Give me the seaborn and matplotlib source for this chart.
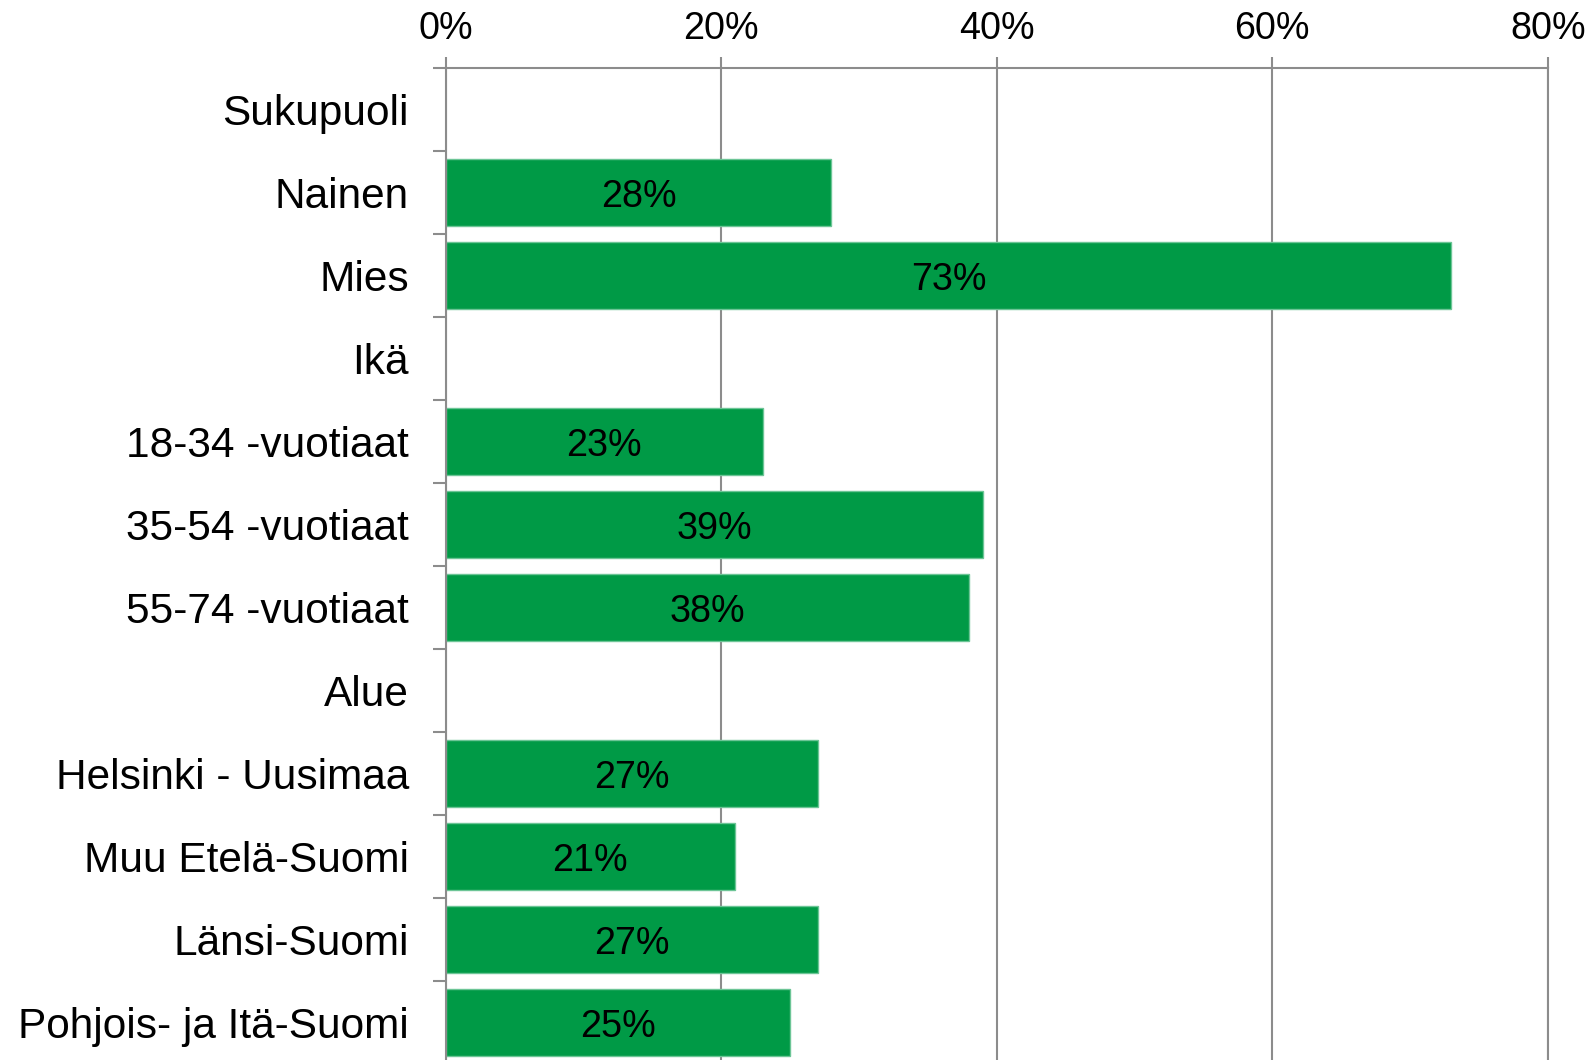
import matplotlib
matplotlib.use("Agg")
import matplotlib.pyplot as plt
import seaborn as sns
import numpy as np
import pandas as pd

categories = ["Sukupuoli", "Nainen", "Mies", "Ikä", "18-34 -vuotiaat",
              "35-54 -vuotiaat", "55-74 -vuotiaat", "Alue", "Helsinki - Uusimaa",
              "Muu Etelä-Suomi", "Länsi-Suomi", "Pohjois- ja Itä-Suomi"]
values = [np.nan, 28, 73, np.nan, 23, 39, 38, np.nan, 27, 21, 27, 25]
xticks = [0, 20, 40, 60, 80]
xtick_labels = ["0%", "20%", "40%", "60%", "80%"]

sns.set_theme(style="white")
plt.rcParams["font.family"] = ["Liberation Sans", "DejaVu Sans"]

GREEN = "#009A46"
GREY = "#8C8C8C"
FS = 30.5
FS_SMALL = 27.2

df = pd.DataFrame({"cat": categories, "val": values})

fig = plt.figure(figsize=(15.92, 10.6), dpi=100)
ax = fig.add_axes([0.280, -0.0038, 0.6922, 0.9396])

sns.barplot(data=df, y="cat", x="val", order=categories, color=GREEN,
            saturation=1, width=0.8, edgecolor="#6cc596", linewidth=1.0,
            ax=ax, errorbar=None)

ax.set_xlim(0, 80)
ax.set_ylim(len(categories) - 0.5, -0.5)
ax.set_xlabel("")
ax.set_ylabel("")

ax.xaxis.tick_top()
ax.set_xticks(xticks)
ax.set_xticklabels(xtick_labels, fontsize=FS_SMALL, color="black")
ax.tick_params(axis="x", which="major", top=True, bottom=False, length=8,
               width=1.5, color=GREY, pad=7)

ax.set_yticks(range(len(categories)))
ax.set_yticklabels(categories, fontsize=FS, color="black")
ax.tick_params(axis="y", which="major", left=False, length=0, pad=26.5)
ax.set_yticks(np.arange(-0.5, len(categories), 1.0), minor=True)
ax.tick_params(axis="y", which="minor", left=True, length=9.5, width=1.5,
               color=GREY)

ax.grid(axis="x", color=GREY, linewidth=1.5)
ax.set_axisbelow(True)
for side in ["left", "top", "right"]:
    ax.spines[side].set_visible(True)
    ax.spines[side].set_color(GREY)
    ax.spines[side].set_linewidth(1.5)
ax.spines["bottom"].set_visible(False)

for cont in ax.containers:
    labels = []
    for bar in cont:
        w = bar.get_width()
        labels.append("" if (w is None or np.isnan(w) or w == 0) else f"{w:.0f}%")
    texts = ax.bar_label(cont, labels=labels, label_type="center",
                         fontsize=FS_SMALL, color="black")
    for t in texts:
        t.set_verticalalignment("center_baseline")

fig.savefig("out.png", dpi=100)
